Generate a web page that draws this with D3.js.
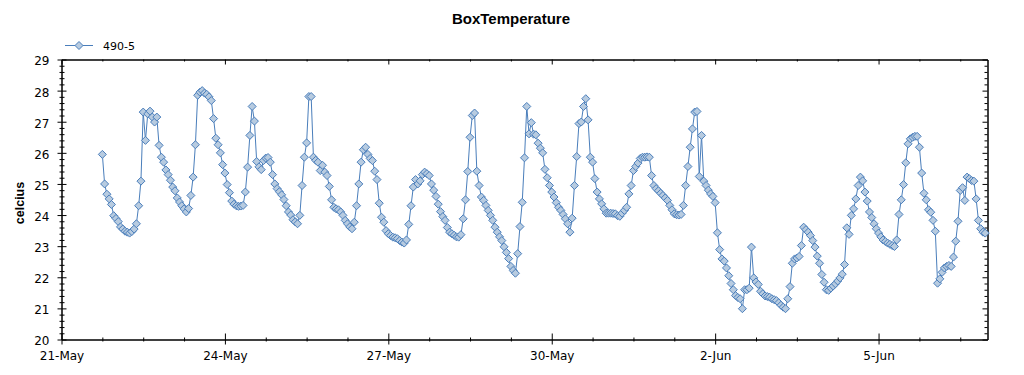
<!DOCTYPE html>
<html>
<head>
<meta charset="utf-8">
<script src="https://cdn.jsdelivr.net/npm/d3@7"></script>
<style>
  body { margin: 0; background: #fff; }
  svg { display: block; }
  text { fill: #000; }
</style>
</head>
<body>
<div id="chart"></div>
<script>
// hourly readings of sensor 490-5, first one at 21-May 18:00
const seriesName = "490-5";
const firstReading = "2010-05-21 18:00";
const temps = [
  25.95, 25.0, 24.67, 24.52, 24.34, 23.98, 23.89, 23.79, 23.62, 23.55,
  23.48, 23.45, 23.42, 23.47, 23.55, 23.72, 24.3, 25.09, 27.31, 26.4,
  27.25, 27.34, 27.15, 26.99, 27.15, 26.24, 25.86, 25.7, 25.45, 25.3,
  25.12, 24.9, 24.78, 24.55, 24.42, 24.3, 24.2, 24.1, 24.21, 24.63,
  25.22, 26.26, 27.85, 27.95, 28.0, 27.92, 27.88, 27.8, 27.68, 27.1,
  26.47, 26.26, 26.0, 25.62, 25.35, 24.98, 24.72, 24.45, 24.35, 24.3,
  24.28, 24.29, 24.31, 24.74, 25.54, 26.56, 27.49, 27.02, 25.72, 25.55,
  25.46, 25.75, 25.83, 25.85, 25.7, 25.3, 25.0, 24.85, 24.75, 24.65,
  24.5, 24.3, 24.1, 24.0, 23.85, 23.78, 23.72, 23.99, 24.95, 25.86,
  26.32, 27.81, 27.81, 25.86, 25.76, 25.7, 25.43, 25.6, 25.38, 25.27,
  24.92, 24.49, 24.25, 24.2, 24.17, 24.1, 23.99, 23.83, 23.72, 23.62,
  23.56, 23.77, 24.3, 25.0, 25.7, 26.1, 26.18, 25.95, 25.82, 25.75,
  25.41, 25.14, 24.38, 23.93, 23.77, 23.5, 23.4, 23.34, 23.29, 23.27,
  23.24, 23.18, 23.13, 23.1, 23.2, 23.7, 24.3, 24.9, 25.14, 25.0,
  25.1, 25.3, 25.38, 25.33, 25.27, 25.0, 24.8, 24.6, 24.35, 24.11,
  23.95, 23.83, 23.6, 23.45, 23.4, 23.35, 23.3, 23.29, 23.37, 23.88,
  24.49, 25.4, 26.5, 27.2, 27.28, 25.41, 24.95, 24.58, 24.47, 24.31,
  24.15, 23.99, 23.83, 23.61, 23.45, 23.3, 23.18, 22.98, 22.8, 22.6,
  22.35, 22.22, 22.13, 22.76, 23.63, 24.41, 25.84, 27.49, 26.61, 26.97,
  26.6, 26.58, 26.31, 26.15, 26.0, 25.47, 25.2, 24.95, 24.74, 24.58,
  24.4, 24.25, 24.15, 24.02, 23.88, 23.72, 23.45, 23.9, 24.95, 25.88,
  26.94, 26.99, 27.49, 27.74, 27.06, 25.86, 25.7, 25.17, 24.74, 24.52,
  24.36, 24.2, 24.06, 24.06, 24.06, 24.05, 24.04, 23.98, 23.96, 24.06,
  24.15, 24.25, 24.68, 24.95, 25.43, 25.56, 25.67, 25.82, 25.86, 25.86,
  25.87, 25.86, 25.27, 24.95, 24.85, 24.78, 24.7, 24.63, 24.55, 24.47,
  24.31, 24.17, 24.04, 24.01, 24.0, 24.02, 24.31, 24.95, 25.56, 26.18,
  26.77, 27.31, 27.33, 25.24, 26.56, 25.09, 24.95, 24.8, 24.68, 24.6,
  24.4, 23.43, 22.89, 22.59, 22.52, 22.3, 22.05, 21.8, 21.6, 21.41,
  21.35, 21.31, 20.99, 21.6, 21.6, 21.65, 22.97, 21.98, 21.85, 21.77,
  21.55, 21.47, 21.4, 21.38, 21.36, 21.31, 21.28, 21.25, 21.18, 21.1,
  21.04, 20.99, 21.31, 21.7, 22.45, 22.59, 22.62, 22.67, 23.02, 23.61,
  23.53, 23.45, 23.34, 23.18, 22.97, 22.68, 22.45, 22.09, 21.84, 21.6,
  21.58, 21.65, 21.72, 21.79, 21.88, 21.98, 22.1, 22.41, 23.59, 23.38,
  23.99, 24.2, 24.52, 24.95, 25.22, 25.1, 24.74, 24.45, 24.1, 23.92,
  23.72, 23.56, 23.42, 23.3, 23.2, 23.15, 23.1, 23.06, 23.02, 22.99,
  23.2, 24.02, 24.49, 24.98, 25.68, 26.29, 26.45, 26.5, 26.53, 26.53,
  26.18, 25.35, 24.7, 24.49, 24.17, 24.09, 23.83, 23.48, 21.81, 21.95,
  22.16, 22.3, 22.35, 22.38, 22.35, 22.65, 23.16, 23.8, 24.79, 24.88,
  24.47, 25.22, 25.17, 25.11, 25.09, 24.52, 23.83, 23.56, 23.45, 23.42
];

// axis ticks
const xStart = "2010-05-21 00:00";
const xEnd = "2010-06-07 00:00";
const xTickLabels = ["2010-05-21", "2010-05-24", "2010-05-27", "2010-05-30", "2010-06-02", "2010-06-05"];
const yTicks = [20, 21, 22, 23, 24, 25, 26, 27, 28, 29];

const parseTime = d3.timeParse("%Y-%m-%d %H:%M");
const parseDay = d3.timeParse("%Y-%m-%d");
const t0 = parseTime(firstReading);

const data = temps.map((v, i) => ({ time: d3.timeHour.offset(t0, i), value: v }));

const W = 1024, H = 375;
const margin = { top: 59.5, right: 36.5, bottom: 35.5, left: 61.5 };
const width = W - margin.left - margin.right;
const height = H - margin.top - margin.bottom;

const svg = d3.select("#chart").append("svg")
  .attr("width", W)
  .attr("height", H)
  .style("font-family", "'DejaVu Sans', sans-serif");

const g = svg.append("g").attr("transform", `translate(${margin.left},${margin.top})`);

const x = d3.scaleTime().domain([parseTime(xStart), parseTime(xEnd)]).range([0, width]);
const y = d3.scaleLinear().domain([20, 29]).range([height, 0]);

const blue = "#4a7ebb";
const lightBlue = "#b7cbe0";

// minor tick positions
const xMajor = xTickLabels.map(parseDay);
const xMinor = d3.timeHour.range(x.domain()[0], x.domain()[1], 18).filter(d => !xMajor.some(m => +m === +d));
const yMinor = d3.range(20, 29.001, 0.2).map(v => Math.round(v * 10) / 10).filter(v => !yTicks.includes(v));

function styleTicks(sel, from, to, vertical) {
  sel.selectAll(".tick line")
    .attr(vertical ? "y1" : "x1", from)
    .attr(vertical ? "y2" : "x2", to)
    .attr("stroke", "#000");
  sel.select(".domain").attr("stroke", "#000");
}

// bottom axis
const bottomMajor = g.append("g")
  .attr("transform", `translate(0,${height})`)
  .call(d3.axisBottom(x).tickValues(xMajor).tickFormat(d3.timeFormat("%-d-%b")).tickSizeOuter(0).tickPadding(12))
  .style("font-family", "'DejaVu Sans', sans-serif")
  .style("font-size", "12px");
styleTicks(bottomMajor, -6, 5, true);
bottomMajor.selectAll(".tick text").attr("y", 12).attr("dy", "0.71em").attr("fill", "#000");

const bottomMinor = g.append("g")
  .attr("transform", `translate(0,${height})`)
  .call(d3.axisBottom(x).tickValues(xMinor).tickFormat("").tickSizeOuter(0));
styleTicks(bottomMinor, -2, 2, true);

// top axis (ticks only)
const topMajor = g.append("g")
  .call(d3.axisTop(x).tickValues(xMajor).tickFormat("").tickSizeOuter(0));
styleTicks(topMajor, 0, 5, true);
const topMinor = g.append("g")
  .call(d3.axisTop(x).tickValues(xMinor).tickFormat("").tickSizeOuter(0));
styleTicks(topMinor, 0, 2, true);

// left axis
const leftMajor = g.append("g")
  .call(d3.axisLeft(y).tickValues(yTicks).tickFormat(d3.format("d")).tickSizeOuter(0).tickPadding(12))
  .style("font-family", "'DejaVu Sans', sans-serif")
  .style("font-size", "12px");
styleTicks(leftMajor, -4, 5, false);
leftMajor.selectAll(".tick text").attr("x", -12).attr("dy", "0.45em").attr("fill", "#000");

const leftMinor = g.append("g")
  .call(d3.axisLeft(y).tickValues(yMinor).tickFormat("").tickSizeOuter(0));
styleTicks(leftMinor, -2, 3, false);

// right axis (ticks only)
const rightMajor = g.append("g")
  .attr("transform", `translate(${width},0)`)
  .call(d3.axisRight(y).tickValues(yTicks).tickFormat("").tickSizeOuter(0));
styleTicks(rightMajor, -5, 0, false);
const rightMinor = g.append("g")
  .attr("transform", `translate(${width},0)`)
  .call(d3.axisRight(y).tickValues(yMinor).tickFormat("").tickSizeOuter(0));
styleTicks(rightMinor, -3, 0, false);

// the series
const line = d3.line()
  .x(d => x(d.time))
  .y(d => y(d.value));

g.append("path")
  .datum(data)
  .attr("fill", "none")
  .attr("stroke", blue)
  .attr("stroke-width", 1)
  .attr("d", line);

const diamond = "M0,-4L4,0L0,4L-4,0Z";

g.selectAll(".point")
  .data(data)
  .enter()
  .append("path")
  .attr("class", "point")
  .attr("d", diamond)
  .attr("transform", d => `translate(${x(d.time)},${y(d.value)})`)
  .attr("fill", lightBlue)
  .attr("stroke", blue)
  .attr("stroke-width", 1);

// title
svg.append("text")
  .attr("x", 511)
  .attr("y", 24)
  .attr("text-anchor", "middle")
  .style("font-family", "'Liberation Sans', Arial, sans-serif")
  .style("font-weight", "bold")
  .style("font-size", "15px")
  .text("BoxTemperature");

// y axis title
svg.append("text")
  .attr("transform", "translate(23.5,203) rotate(-90)")
  .attr("text-anchor", "middle")
  .style("font-family", "'Liberation Sans', Arial, sans-serif")
  .style("font-weight", "bold")
  .style("font-size", "12.5px")
  .text("celcius");

// legend
const legend = svg.append("g").attr("transform", "translate(65,45.5)");
legend.append("line")
  .attr("x1", 0).attr("x2", 28)
  .attr("stroke", blue);
legend.append("path")
  .attr("d", diamond)
  .attr("transform", "translate(14,0)")
  .attr("fill", lightBlue)
  .attr("stroke", blue);
legend.append("text")
  .attr("x", 38)
  .attr("y", 4)
  .style("font-size", "11px")
  .text(seriesName);
</script>
</body>
</html>
